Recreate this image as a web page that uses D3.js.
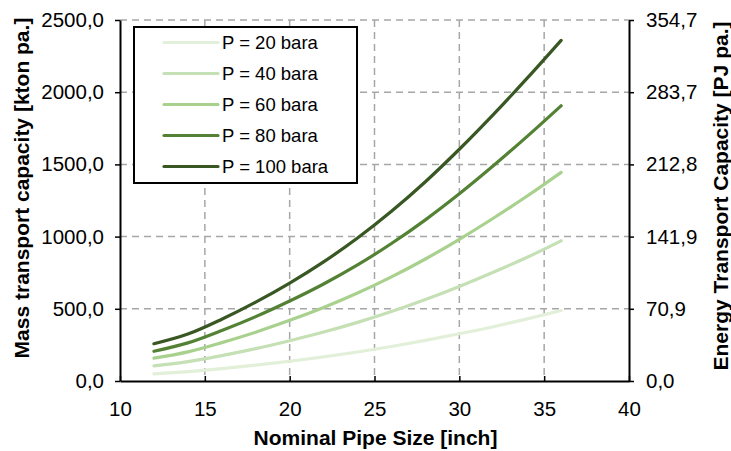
<!DOCTYPE html>
<html>
<head>
<meta charset="utf-8">
<script src="https://cdn.jsdelivr.net/npm/d3@7"></script>
<style>
  body { margin: 0; background: #fff; }
  text { font-family: "Liberation Sans", Arial, sans-serif; fill: #000; }
</style>
</head>
<body>
<svg id="chart" width="731" height="451"></svg>
<script>

// nominal pipe sizes (inch)
var pipeSizes = [12, 14, 16, 18, 20, 22, 24, 26, 28, 30, 32, 34, 36];

// mass transport capacity [kton pa.] per pressure
var p20 = [50, 65, 86, 110, 137, 167, 201, 239, 281, 327, 376, 430, 488];
var p40 = [105, 134, 176, 224, 279, 339, 406, 481, 564, 655, 753, 857, 971];
var p60 = [158, 202, 266, 338, 420, 509, 609, 721, 845, 981, 1127, 1281, 1445];
var p80 = [206, 264, 350, 446, 554, 672, 804, 952, 1116, 1296, 1490, 1694, 1906];
var p100 = [258, 325, 428, 546, 678, 825, 990, 1175, 1380, 1605, 1845, 2097, 2359];

var seriesNames = ["P = 20 bara", "P = 40 bara", "P = 60 bara", "P = 80 bara", "P = 100 bara"];
var seriesColors = ["#e2efd9", "#c5e0b4", "#a9d18e", "#548235", "#385723"];

var xTicks = [10, 15, 20, 25, 30, 35, 40];
var massTicks = [0, 500, 1000, 1500, 2000, 2500];
var energyTicks = [0, 70.94, 141.88, 212.82, 283.76, 354.7];
var energyLabels = ["0,0", "70,9", "141,9", "212,8", "283,7", "354,7"];

var series = [p20, p40, p60, p80, p100].map(function(vals, i) {
    return {
        name: seriesNames[i],
        color: seriesColors[i],
        points: vals.map(function(v, j) { return { x: pipeSizes[j], y: v }; })
    };
});

// plot box (window.top is reserved, so no plain "top")
var box = { left: 120, right: 629, top: 20, bottom: 381 };

var svg = d3.select("#chart");

var x_scale = d3.scaleLinear().domain([10, 40]).range([box.left, box.right]);
var y_scale = d3.scaleLinear().domain([0, 2500]).range([box.bottom, box.top]);
var y2_scale = d3.scaleLinear().domain([0, 354.7]).range([box.bottom, box.top]);

var comma = d3.formatLocale({ decimal: ",", thousands: "", grouping: [3], currency: ["", ""] }).format(".1f");

// dashed grid
var grid = svg.append("g").attr("stroke", "#a6a6a6").attr("stroke-width", 1.5)
    .attr("stroke-dasharray", "7,5");

grid.selectAll(".hgrid")
    .data(massTicks.slice(1))
    .enter().append("line")
    .attr("x1", box.left).attr("x2", box.right)
    .attr("y1", function(d) { return y_scale(d); })
    .attr("y2", function(d) { return y_scale(d); });

grid.selectAll(".vgrid")
    .data(xTicks.slice(1, -1))
    .enter().append("line")
    .attr("y1", box.top).attr("y2", box.bottom)
    .attr("x1", function(d) { return x_scale(d); })
    .attr("x2", function(d) { return x_scale(d); });

// curves
var line = d3.line()
    .x(function(d) { return x_scale(d.x); })
    .y(function(d) { return y_scale(d.y); })
    .curve(d3.curveMonotoneX);

svg.append("g").selectAll("path")
    .data(series)
    .enter().append("path")
    .attr("d", function(d) { return line(d.points); })
    .attr("fill", "none")
    .attr("stroke", function(d) { return d.color; })
    .attr("stroke-width", 3.2)
    .attr("stroke-linecap", "round");

// axes
function styleAxis(g) {
    g.selectAll(".domain").attr("stroke", "#000").attr("stroke-width", 2);
    g.selectAll(".tick line").attr("stroke", "#000").attr("stroke-width", 1.5);
    g.selectAll(".tick text").style("font-size", "20.5px").attr("fill", "#000");
    g.attr("font-family", null).attr("font-size", null);
}

svg.append("g")
    .attr("transform", "translate(0," + box.bottom + ")")
    .call(d3.axisBottom(x_scale).tickValues(xTicks).tickSizeInner(-5).tickSizeOuter(0).tickPadding(20))
    .call(styleAxis);

svg.append("g")
    .attr("transform", "translate(" + box.left + ",0)")
    .call(d3.axisLeft(y_scale).tickValues(massTicks).tickFormat(comma).tickSizeInner(5).tickSizeOuter(0).tickPadding(11))
    .call(styleAxis);

svg.append("g")
    .attr("transform", "translate(" + box.right + ",0)")
    .call(d3.axisRight(y2_scale).tickValues(energyTicks)
        .tickFormat(function(d, i) { return energyLabels[i]; })
        .tickSizeInner(5).tickSizeOuter(0).tickPadding(12))
    .call(styleAxis);

// axis titles
svg.append("text")
    .attr("x", (box.left + box.right) / 2 + 1)
    .attr("y", 445)
    .attr("text-anchor", "middle")
    .style("font-size", "21px").style("font-weight", "bold")
    .text("Nominal Pipe Size [inch]");

svg.append("text")
    .attr("transform", "translate(29,188) rotate(-90)")
    .attr("text-anchor", "middle")
    .style("font-size", "21px").style("font-weight", "bold")
    .text("Mass transport capacity [kton pa.]");

svg.append("text")
    .attr("transform", "translate(728,196) rotate(-90)")
    .attr("text-anchor", "middle")
    .style("font-size", "21px").style("font-weight", "bold")
    .text("Energy Transport Capacity [PJ pa.]");

// legend
var legend = svg.append("g");

legend.append("rect")
    .attr("x", 134).attr("y", 27)
    .attr("width", 223).attr("height", 156)
    .attr("fill", "#fff").attr("stroke", "#000").attr("stroke-width", 2);

var item = legend.selectAll(".item")
    .data(series)
    .enter().append("g")
    .attr("transform", function(d, i) { return "translate(0," + (42.5 + i * 31) + ")"; });

item.append("line")
    .attr("x1", 164).attr("x2", 218)
    .attr("stroke", function(d) { return d.color; })
    .attr("stroke-width", 3.2)
    .attr("stroke-linecap", "round");

item.append("text")
    .attr("x", 222)
    .attr("dy", "0.35em")
    .style("font-size", "18.5px")
    .text(function(d) { return d.name; });

</script>
</body>
</html>
